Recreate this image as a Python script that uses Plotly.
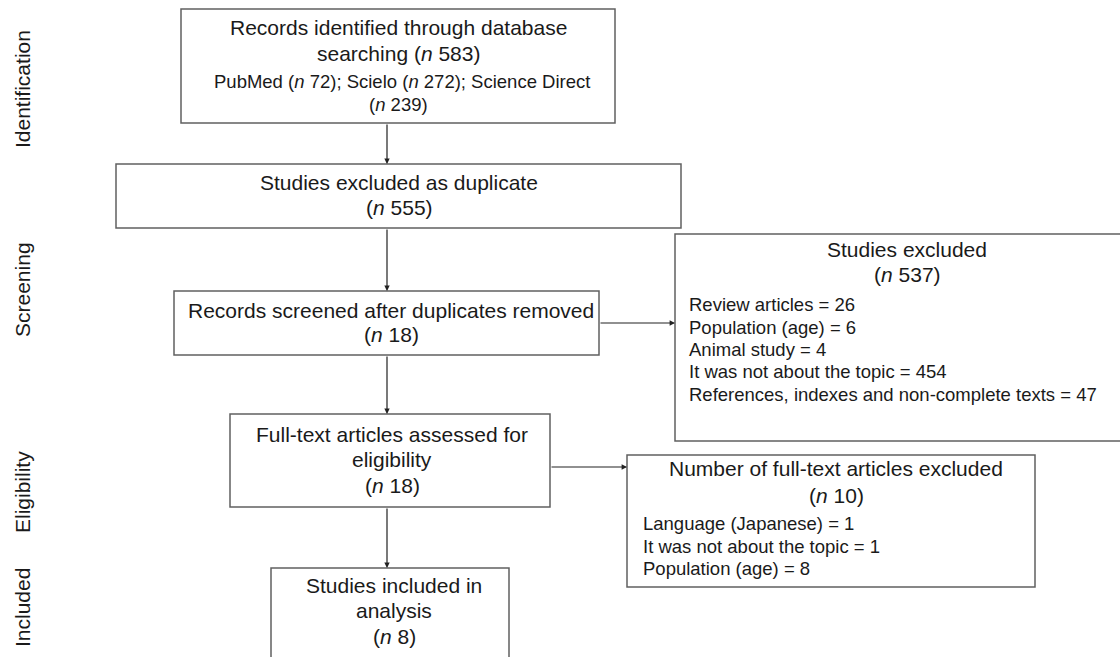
import plotly.graph_objects as go

# ---- data ----
stages = ["Identification", "Screening", "Eligibility", "Included"]
stage_y = [89, 290, 492, 608]

n_identified = 583
db_names = ["PubMed", "Scielo", "Science Direct"]
db_counts = [72, 272, 239]
n_duplicates = 555
n_screened = 18
n_excluded = 537
excl_reasons = ["Review articles", "Population (age)", "Animal study",
                "It was not about the topic", "References, indexes and non-complete texts"]
excl_counts = [26, 6, 4, 454, 47]
n_fulltext = 18
n_ft_excluded = 10
ft_reasons = ["Language (Japanese)", "It was not about the topic", "Population (age)"]
ft_counts = [1, 1, 8]
n_included = 8

# ---- layout geometry ----
FONT = "Liberation Sans, Arial, Helvetica, sans-serif"
TXT = "#1a1a1a"
BIG = 21
SMALL = 18.5

boxes = {
    "ident": (181, 9, 615, 123),
    "dup": (116, 164, 681, 228),
    "screen": (174, 291, 599, 355),
    "excl": (675, 234, 1124, 441),
    "full": (230, 414, 550, 507),
    "ftex": (627, 455, 1035, 587),
    "incl": (271, 568, 509, 680),
}

fig = go.Figure()
shapes = []
for (x0, y0, x1, y1) in boxes.values():
    shapes.append(dict(type="rect", xref="x", yref="y", x0=x0, y0=y0, x1=x1, y1=y1,
                       line=dict(color="#606060", width=1.5), fillcolor="white", layer="below"))

annotations = []

def txt(x, y, s, size, anchor="center"):
    annotations.append(dict(x=x, y=y, xref="x", yref="y", text=s, showarrow=False,
                            xanchor=anchor, yanchor="middle",
                            font=dict(family=FONT, size=size, color=TXT)))

def arrow(x0, y0, x1, y1):
    annotations.append(dict(x=x1, y=y1, ax=x0, ay=y0, xref="x", yref="y", axref="x", ayref="y",
                            text="", showarrow=True, arrowhead=2, arrowsize=0.9, arrowwidth=1.2,
                            arrowcolor="#222222", standoff=0, startstandoff=0))

N = lambda v: "(<i>n</i> %d)" % v

# box 1
txt(398, 27, "Records identified through database", BIG)
txt(398, 53, "searching " + N(n_identified), BIG)
txt(402, 81, "; ".join("%s %s" % (nm, N(c)) for nm, c in zip(db_names[:2], db_counts[:2]))
    + "; " + db_names[2], SMALL)
txt(398, 104, N(db_counts[2]), SMALL)
# box 2
txt(399, 182, "Studies excluded as duplicate", BIG)
txt(399, 207, N(n_duplicates), BIG)
# box 3
txt(391, 310, "Records screened after duplicates removed", BIG)
txt(391, 334, N(n_screened), BIG)
# box 4
txt(907, 249, "Studies excluded", BIG)
txt(907, 274, N(n_excluded), BIG)
excl_y = [304, 327, 349, 371, 394]
for r, c, y in zip(excl_reasons, excl_counts, excl_y):
    txt(687, y, "%s = %d" % (r, c), SMALL, "left")
# box 5
txt(392, 434, "Full-text articles assessed for", BIG)
txt(392, 459, "eligibility", BIG)
txt(392, 485, N(n_fulltext), BIG)
# box 6
txt(836, 468, "Number of full-text articles excluded", BIG)
txt(836, 495, N(n_ft_excluded), BIG)
ft_y = [523, 546, 568]
for r, c, y in zip(ft_reasons, ft_counts, ft_y):
    txt(641, y, "%s = %d" % (r, c), SMALL, "left")
# box 7
txt(394, 585, "Studies included in", BIG)
txt(394, 610, "analysis", BIG)
txt(394, 636, N(n_included), BIG)

# arrows
arrow(387, 123, 387, 164)
arrow(387, 228, 387, 291)
arrow(387, 355, 387, 414)
arrow(387, 507, 387, 568)
arrow(599, 323, 675, 323)
arrow(550, 467, 627, 467)

# stage labels
for s, y in zip(stages, stage_y):
    annotations.append(dict(x=22, y=y, xref="x", yref="y", text=s, showarrow=False,
                            textangle=-90, xanchor="center", yanchor="middle",
                            font=dict(family=FONT, size=BIG, color=TXT)))

fig.update_layout(
    width=1120, height=657, margin=dict(l=0, r=0, t=0, b=0),
    paper_bgcolor="white", plot_bgcolor="white",
    xaxis=dict(range=[0, 1120], visible=False, fixedrange=True),
    yaxis=dict(range=[657, 0], visible=False, fixedrange=True),
    shapes=shapes, annotations=annotations, showlegend=False,
)
fig.write_html("out.html", config={"displayModeBar": False},
               post_script="document.body.style.margin='0';document.body.style.overflow='hidden';")
